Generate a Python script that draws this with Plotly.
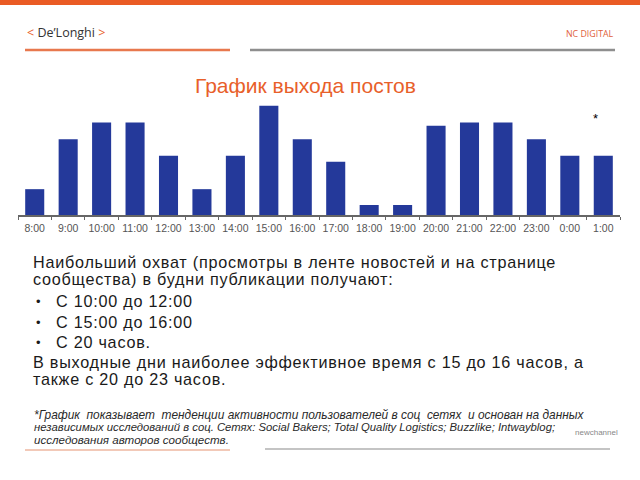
import plotly.graph_objects as go

hours = ["8:00", "9:00", "10:00", "11:00", "12:00", "13:00", "14:00", "15:00", "16:00",
         "17:00", "18:00", "19:00", "20:00", "21:00", "22:00", "23:00", "0:00", "1:00"]
activity = [1.55, 4.55, 5.55, 5.55, 3.55, 1.55, 3.55, 6.55, 4.55,
            3.2, 0.6, 0.6, 5.35, 5.55, 5.55, 4.55, 3.55, 3.55]

title_text = "График выхода постов"
body_lines = [
    "Наибольший охват (просмотры в ленте новостей и на странице",
    "сообщества) в будни публикации получают:",
]
bullets = ["С 10:00 до 12:00", "С 15:00 до 16:00", "С 20 часов."]
weekend_lines = [
    "В выходные дни наиболее эффективное время с 15 до 16 часов, а",
    "также с 20 до 23 часов.",
]
foot_lines = [
    "*График  показывает  тенденции активности пользователей в соц  сетях  и основан на данных",
    "независимых исследований в соц. Сетях: Social Bakers; Total Quality Logistics; Buzzlike; Intwayblog;",
    "исследования авторов сообществ.",
]

W, H = 640, 480
def px(x):
    return x / W
def py(y):
    return 1 - y / H

ORANGE = "#e8602a"
BLUE = "#24399a"

fig = go.Figure()
fig.add_trace(go.Bar(x=hours, y=activity, marker=dict(color=BLUE, line=dict(width=0)),
                     hoverinfo="skip"))

fig.update_layout(
    width=W, height=H,
    margin=dict(l=0, r=0, t=0, b=0),
    paper_bgcolor="white", plot_bgcolor="white",
    showlegend=False,
    bargap=0.43,
    font=dict(family="Liberation Sans, Arial, sans-serif"),
    xaxis=dict(domain=[px(18), px(620)], type="category",
               showline=True, linecolor="#666666", linewidth=1.5,
               ticks="outside", tickson="boundaries", ticklen=3, tickcolor="#666666",
               tickangle=0, ticklabelstandoff=3,
               tickfont=dict(size=10.5, color="#555555"), showgrid=False, zeroline=False),
    yaxis=dict(domain=[py(215), py(95)], range=[0, 7.2], visible=False, showgrid=False),
)

shapes = [
    dict(type="rect", xref="paper", yref="paper", x0=0, x1=1, y0=py(5), y1=1,
         fillcolor="#ea5b24", line=dict(width=0)),
    dict(type="line", xref="paper", yref="paper", x0=px(25), x1=px(230), y0=py(50), y1=py(50),
         line=dict(color="#e8784e", width=2.5)),
    dict(type="line", xref="paper", yref="paper", x0=px(250), x1=px(615), y0=py(50), y1=py(50),
         line=dict(color="#8e8e8e", width=2.5)),
    dict(type="line", xref="paper", yref="paper", x0=px(25), x1=px(230), y0=py(450), y1=py(450),
         line=dict(color="#f2c9b8", width=2)),
    dict(type="line", xref="paper", yref="paper", x0=px(265), x1=px(610), y0=py(449), y1=py(449),
         line=dict(color="#c4c4c4", width=2)),
]
fig.update_layout(shapes=shapes)

ann = []
def text(x, y, s, size, color, xanchor="left", family=None, italic=False, spacing=None):
    t = s
    if spacing is not None:
        t = "<span style='letter-spacing:%spx'>%s</span>" % (spacing, t)
    if italic:
        t = "<i>" + t + "</i>"
    d = dict(x=px(x), y=py(y), xref="paper", yref="paper", text=t, showarrow=False,
             xanchor=xanchor, yanchor="middle", font=dict(size=size, color=color))
    if family:
        d["font"]["family"] = family
    ann.append(d)

text(25, 33, "<span style='color:%s'>&lt;</span> De’Longhi <span style='color:%s'>&gt;</span>" % (ORANGE, ORANGE),
     12.5, "#333333", family="Open Sans, sans-serif")
text(616, 34, "NC DIGITAL", 8.8, "#e0603a", xanchor="right", family="Open Sans, sans-serif")
text(305, 85, title_text, 21, ORANGE, xanchor="center")
text(595, 118, "*", 13, "#000000", xanchor="center")

BODY = 16.2
SP = 0.75
for y, s in zip([262, 279], body_lines):
    text(31, y, s, BODY, "#1a1a1a", spacing=SP)
for y, s in zip([301, 322, 342], bullets):
    text(34, y, "•", 13, "#1a1a1a")
    text(54, y, s, BODY, "#1a1a1a", spacing=SP)
for y, s in zip([362, 379], weekend_lines):
    text(31, y, s, BODY, "#1a1a1a", spacing=SP)
for y, s, fs in zip([415, 427, 439], foot_lines, [11.9, 11.3, 11.6]):
    text(32, y, s, fs, "#2a2a2a", italic=True)

text(596, 432, "newchannel", 8, "#888888", xanchor="center")

fig.update_layout(annotations=ann)
fig.write_html("out.html", config={"displayModeBar": False},
               post_script="document.body.style.margin='0';document.body.style.overflow='hidden';")
